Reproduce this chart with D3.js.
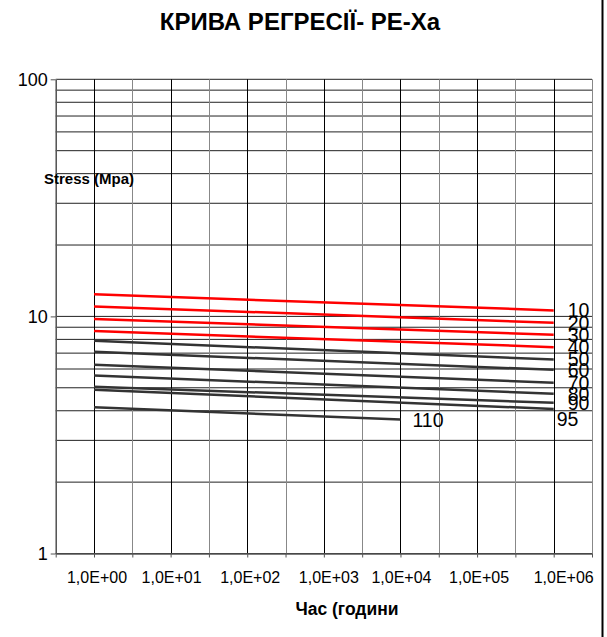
<!DOCTYPE html>
<html>
<head>
<meta charset="utf-8">
<script src="https://cdn.jsdelivr.net/npm/d3@7"></script>
<style>
  html, body { margin: 0; padding: 0; background: #fff; }
  svg { display: block; font-family: Arial, "Liberation Sans", sans-serif; }
</style>
</head>
<body>
<svg id="chart" width="607" height="637"></svg>
<script>
// ---- data ----
const temperatures = ["10", "20", "30", "40", "50", "60", "70", "80", "90", "95", "110"];
const startHours   = [1, 1, 1, 1, 1, 1, 1, 1, 1, 1, 1];
const endHours     = [1e6, 1e6, 1e6, 1e6, 1e6, 1e6, 1e6, 1e6, 1e6, 1e6, 1e4];
const stressStart  = [12.39, 11.02, 9.74, 8.67, 7.89, 7.09, 6.25, 5.63, 5.05, 4.90, 4.14];
const stressEnd    = [10.60, 9.40, 8.37, 7.42, 6.58, 5.95, 5.25, 4.72, 4.32, 4.07, 3.67];
const yTickValues  = [1, 10, 100];
const xDecades     = [0, 1, 2, 3, 4, 5, 6];
const titleText    = "КРИВА РЕГРЕСІЇ- PE-Xa";
const xTitle       = "Час (години";
const yTitle       = "Stress (Mpa)";

// ---- styling / layout ----
const W = 607, H = 637;
const plot = { left: 55.7, right: 592, top: 79.3, bottom: 553.5 };
const lineColor = i => (i < 4 ? "#ff0000" : "#333333");
const labelOffset = { "95": [3, 10], "110": [12, 0] };
const xLabelShift = [3, 1, 3, 5, 1, 2, 10];

const svg = d3.select("#chart");

const x = d3.scaleLog().domain([Math.pow(10, -0.5), Math.pow(10, 6.5)]).range([plot.left, plot.right]);
const y = d3.scaleLog().domain([1, 100]).range([plot.bottom, plot.top]);

// horizontal grid (log minor)
const hGrid = [];
for (let d = 1; d <= 10; d *= 10) for (let m = 1; m <= 9; m++) hGrid.push(d * m);
hGrid.push(100);
svg.append("g").selectAll("line").data(hGrid).join("line")
  .attr("x1", plot.left).attr("x2", plot.right)
  .attr("y1", d => y(d)).attr("y2", d => y(d))
  .attr("stroke", "#222").attr("stroke-width", 1);

// vertical grid (each half decade)
const vGrid = d3.range(-1, 14).map(k => Math.pow(10, k / 2));
svg.append("g").selectAll("line").data(vGrid).join("line")
  .attr("x1", d => Math.round(x(d)) + 0.5).attr("x2", d => Math.round(x(d)) + 0.5)
  .attr("y1", plot.top).attr("y2", plot.bottom)
  .attr("stroke", (d, i) => (i % 2 === 1 ? "#000" : "#888"))
  .attr("stroke-width", 1);

// y axis
const yAxis = d3.axisLeft(y).tickValues(yTickValues).tickFormat(d3.format("d")).tickSize(5).tickSizeOuter(0).tickPadding(3);
const gy = svg.append("g").attr("transform", `translate(${plot.left},0)`).call(yAxis);
gy.select(".domain").attr("stroke", "#555").attr("stroke-width", 1.5);
gy.selectAll(".tick line").attr("stroke", "#555");
gy.selectAll(".tick text").attr("font-size", 18).attr("font-family", "Arial, 'Liberation Sans', sans-serif").attr("fill", "#000");

// x axis (ticks at half decades, no labels)
const xAxis = d3.axisBottom(x).tickValues(vGrid).tickFormat("").tickSize(4).tickSizeOuter(0);
const gx = svg.append("g").attr("transform", `translate(0,${plot.bottom})`).call(xAxis);
gx.select(".domain").attr("stroke", "#555").attr("stroke-width", 1.5);
gx.selectAll(".tick line").attr("stroke", "#555");

// x labels at decades
svg.append("g").selectAll("text").data(xDecades).join("text")
  .attr("x", (k, i) => x(Math.pow(10, k)) + xLabelShift[i])
  .attr("y", 577.5)
  .attr("text-anchor", "middle").attr("dominant-baseline", "central")
  .attr("font-size", 16)
  .text(k => "1,0E+" + String(k).padStart(2, "0"));

// series lines
const lineGen = d3.line().x(d => x(d[0])).y(d => y(d[1]));
const series = temperatures.map((t, i) => ({
  t, i,
  pts: [[startHours[i], stressStart[i]], [endHours[i], stressEnd[i]]]
}));
svg.append("g").selectAll("path").data(series).join("path")
  .attr("d", d => lineGen(d.pts))
  .attr("fill", "none")
  .attr("stroke", d => lineColor(d.i))
  .attr("stroke-width", 2.5);

// series labels
svg.append("g").selectAll("text").data(series).join("text")
  .attr("x", d => x(endHours[d.i]) + (labelOffset[d.t] ? labelOffset[d.t][0] : 14))
  .attr("y", d => y(stressEnd[d.i]) + (labelOffset[d.t] ? labelOffset[d.t][1] : 0))
  .attr("dominant-baseline", "central")
  .attr("font-size", 19.5)
  .attr("fill", "#000")
  .text(d => d.t);

// titles
svg.append("text").attr("x", 300).attr("y", 21).attr("text-anchor", "middle")
  .attr("dominant-baseline", "central").attr("font-size", 24).attr("font-weight", "bold")
  .text(titleText);
svg.append("text").attr("x", 347).attr("y", 609).attr("text-anchor", "middle")
  .attr("dominant-baseline", "central").attr("font-size", 17.5).attr("font-weight", "bold")
  .text(xTitle);
svg.append("text").attr("x", 44).attr("y", 178)
  .attr("dominant-baseline", "central").attr("font-size", 15).attr("font-weight", "bold")
  .text(yTitle);

// outer frame (right edge)
svg.append("line").attr("x1", 602.5).attr("x2", 602.5).attr("y1", 0).attr("y2", H)
  .attr("stroke", "#000").attr("stroke-width", 2);
</script>
</body>
</html>
